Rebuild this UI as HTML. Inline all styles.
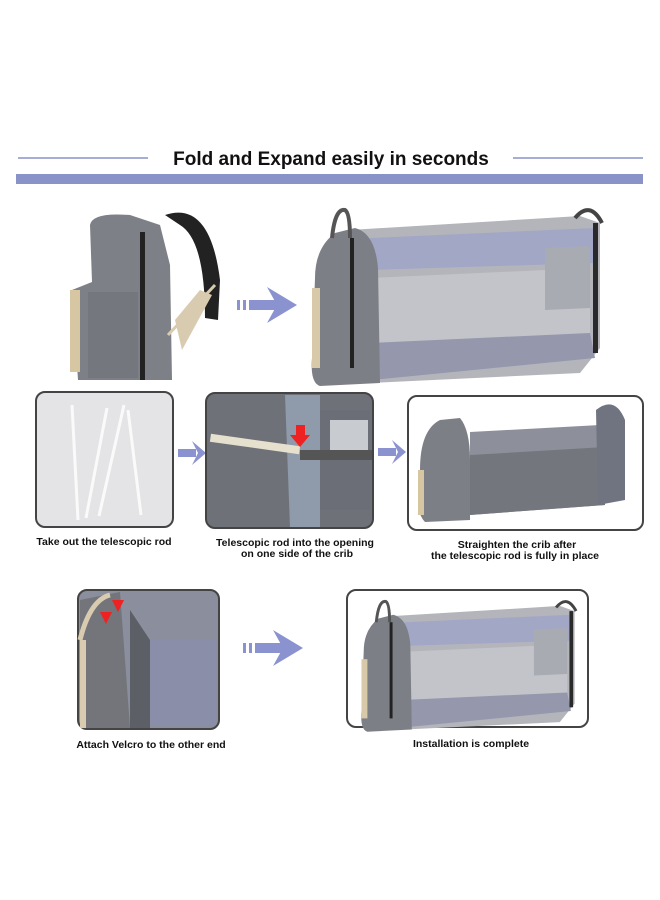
<!DOCTYPE html>
<html><head><meta charset="utf-8"><style>
html,body{margin:0;padding:0;background:#fff;width:660px;height:900px;overflow:hidden}
svg{display:block}
text{font-family:"Liberation Sans",sans-serif;font-weight:bold;fill:#111}
</style></head><body>
<svg width="660" height="900" viewBox="0 0 660 900" xmlns="http://www.w3.org/2000/svg">
<defs>
<g id="arrowB"><rect x="0" y="-5" width="3" height="10" fill="#8a93cf"/><rect x="6" y="-5" width="3" height="10" fill="#8a93cf"/><rect x="12" y="-5" width="28" height="10" fill="#8a93cf"/><polygon points="30,-18 60,0 30,18 40,0" fill="#8a93cf"/></g>
<g id="arrowS"><rect x="0" y="-4" width="18" height="8" fill="#8a93cf"/><polygon points="14,-12 28,0 14,12 20,0" fill="#8a93cf"/></g>
<g id="crib">
<path d="M40,22 L270,8 L290,15 L290,140 L270,165 L60,175 Z" fill="#b4b5bb"/>
<path d="M60,30 L285,20 L285,55 L60,62 Z" fill="#a3a7c6"/>
<path d="M60,70 L280,60 L280,150 L60,160 Z" fill="#c3c4ca"/>
<path d="M235,40 L280,38 L280,100 L235,102 Z" fill="#a9abb2"/>
<path d="M60,135 L280,125 L285,150 L62,172 Z" fill="#9597ad"/>
<path d="M5,70 Q5,40 25,25 L45,20 Q65,25 68,60 L70,175 L10,178 Q0,175 2,150 Z" fill="#7d7f86"/>
<rect x="2" y="80" width="8" height="80" fill="#d8c9a8"/>
<rect x="40" y="30" width="4" height="130" fill="#222"/>
<path d="M22,30 Q25,0 35,2 Q40,5 40,30" fill="none" stroke="#555" stroke-width="4"/>
<path d="M265,10 Q280,-8 292,15" fill="none" stroke="#444" stroke-width="4"/>
<rect x="283" y="15" width="5" height="130" fill="#2a2a2a"/>
</g>
</defs>

<line x1="18" y1="158" x2="148" y2="158" stroke="#8a93c8" stroke-width="1.5"/>
<line x1="513" y1="158" x2="643" y2="158" stroke="#8a93c8" stroke-width="1.5"/>
<text x="331" y="165" font-size="19" text-anchor="middle">Fold and Expand easily in seconds</text>
<rect x="16" y="174" width="627" height="10" fill="#8a93c8"/>

<path d="M165,215 Q210,200 220,280 L218,320 L205,318 Q205,240 180,225 Z" fill="#222"/>
<path d="M90,225 Q92,212 130,215 L160,225 L170,265 L172,380 L78,380 L72,290 L92,282 Z" fill="#7e8087"/>
<rect x="140" y="232" width="5" height="148" fill="#222"/>
<rect x="70" y="290" width="10" height="82" fill="#d6c6a2"/>
<rect x="88" y="292" width="50" height="86" fill="#75777e"/>
<path d="M175,320 L200,290 L212,295 L182,350 Z" fill="#d8cbb0"/>
<path d="M168,335 L215,285" stroke="#d8cbb0" stroke-width="3"/>
<use href="#arrowB" x="237" y="305"/>
<use href="#crib" x="310" y="208"/>

<rect x="36" y="392" width="137" height="135" rx="9" fill="#e4e4e6" stroke="#444" stroke-width="2"/>
<g stroke="#fafafa" stroke-width="3">
<line x1="72" y1="405" x2="78" y2="520"/><line x1="107" y1="408" x2="86" y2="518"/>
<line x1="124" y1="405" x2="99" y2="516"/><line x1="128" y1="410" x2="141" y2="515"/>
</g>
<use href="#arrowS" x="178" y="453"/>
<rect x="206" y="393" width="167" height="135" rx="9" fill="#6f7178" stroke="#444" stroke-width="2"/>
<path d="M285,395 L320,395 L320,527 L290,527 Z" fill="#8f9aaa"/>
<rect x="320" y="410" width="50" height="100" fill="#6b6e76"/>
<rect x="330" y="420" width="38" height="40" fill="#c8cbd0"/>
<rect x="210" y="440" width="90" height="8" fill="#e6e0cf" transform="rotate(8 255 444)"/>
<rect x="300" y="450" width="72" height="10" fill="#555"/>
<polygon points="296,425 305,425 305,435 310,435 300,447 290,435 296,435" fill="#e22"/>
<use href="#arrowS" x="378" y="452"/>
<rect x="408" y="396" width="235" height="134" rx="9" fill="#fff" stroke="#444" stroke-width="2"/>
<path d="M470,432 L600,425 L605,505 L470,515 Z" fill="#8d909b"/>
<path d="M470,455 L605,447 L605,505 L470,515 Z" fill="#74767e"/>
<path d="M596,410 Q615,395 625,420 L625,500 L598,505 Z" fill="#707380"/>
<path d="M420,470 Q420,430 440,420 L460,418 Q470,430 470,460 L470,520 L425,522 Q418,515 418,500 Z" fill="#7d7f86"/>
<rect x="418" y="470" width="6" height="45" fill="#d6c6a2"/>
<text x="104" y="545" font-size="10.5" text-anchor="middle">Take out the telescopic rod</text>
<text x="295" y="546" font-size="10.5" text-anchor="middle">Telescopic rod into the opening</text>
<text x="297" y="557" font-size="10.5" text-anchor="middle">on one side of the crib</text>
<text x="517" y="548" font-size="10.5" text-anchor="middle">Straighten the crib after</text>
<text x="515" y="559" font-size="10.5" text-anchor="middle">the telescopic rod is fully in place</text>

<rect x="78" y="590" width="141" height="139" rx="9" fill="#8b8e9c" stroke="#444" stroke-width="2"/>
<path d="M80,600 L120,592 L130,728 L80,728 Z" fill="#73757b"/>
<path d="M80,640 Q90,600 110,595" stroke="#d8cbb0" stroke-width="5" fill="none"/>
<rect x="80" y="640" width="6" height="88" fill="#d8cbb0"/>
<rect x="150" y="640" width="66" height="85" fill="#8a8ea8"/>
<path d="M130,610 L150,640 L150,728 L130,728 Z" fill="#5d5f66"/>
<polygon points="112,600 124,600 118,612" fill="#e22"/><polygon points="100,612 112,612 106,624" fill="#e22"/>
<use href="#arrowB" x="243" y="648"/>
<rect x="347" y="590" width="241" height="137" rx="9" fill="#fff" stroke="#444" stroke-width="2"/>
<use href="#crib" transform="translate(360,600) scale(0.74)"/>
<text x="151" y="748" font-size="10.5" text-anchor="middle">Attach Velcro to the other end</text>
<text x="471" y="747" font-size="10.5" text-anchor="middle">Installation is complete</text>
</svg>
</body></html>
